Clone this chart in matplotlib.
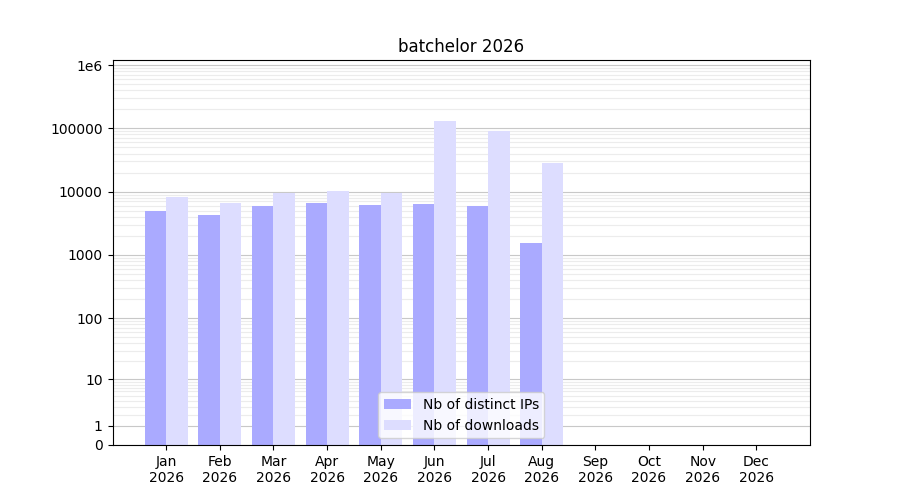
import numpy as np
import matplotlib
matplotlib.use("Agg")
import matplotlib.pyplot as plt

months = ["Jan", "Feb", "Mar", "Apr", "May", "Jun",
          "Jul", "Aug", "Sep", "Oct", "Nov", "Dec"]
year = "2026"
distinct_ips = [4950, 4280, 5940, 6630, 6160, 6380, 5940, 1550]
downloads = [8240, 6630, 9530, 10240, 9530, 130600, 90800, 28400]

fig, ax = plt.subplots(figsize=(9, 5), dpi=100)

# log10(x + 1) axis so that zero can be shown
ax.set_yscale("function", functions=(lambda v: np.log10(np.clip(v, 0, None) + 1),
                                     lambda v: 10 ** v - 1))

x = np.arange(len(months))
w = 0.4
ax.bar(x[:len(distinct_ips)] - w / 2, distinct_ips, width=w,
       color="#aaaaff", label="Nb of distinct IPs", zorder=2)
ax.bar(x[:len(downloads)] + w / 2, downloads, width=w,
       color="#ddddff", label="Nb of downloads", zorder=2)

major = [0, 1, 10, 100, 1000, 10000, 100000, 1000000]
ax.set_yticks(major)
ax.set_yticklabels(["0", "1", "10", "100", "1000", "10000", "100000", "1e6"])
minor = [m * 10 ** e for e in range(0, 6) for m in range(2, 10)]
ax.set_yticks(minor, minor=True)
ax.tick_params(axis="y", which="minor", length=0)
ax.set_ylim(0, 1.2e6)

ax.grid(True, which="major", axis="y", color="#c8c8c8", linewidth=0.8, zorder=0)
ax.grid(True, which="minor", axis="y", color="#ececec", linewidth=0.8, zorder=0)
ax.set_axisbelow(True)

ax.set_xticks(x)
ax.set_xticklabels([f"{m}\n{year}" for m in months])
ax.set_xlim(-1, 12)

ax.set_title("batchelor 2026")
ax.legend(loc="lower center")

fig.savefig("out.png", dpi=100)
